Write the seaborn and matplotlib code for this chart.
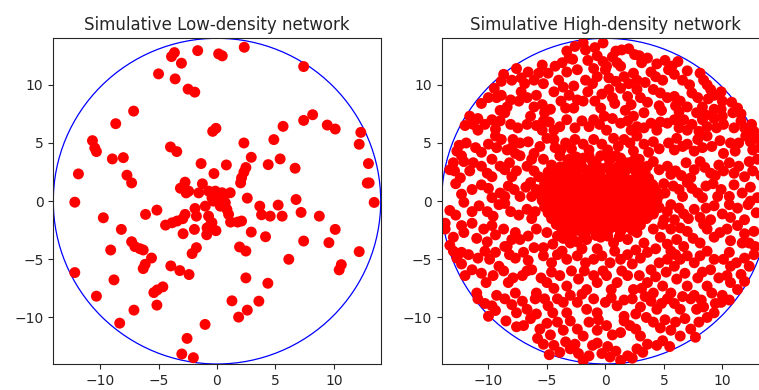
import matplotlib
matplotlib.use("Agg")
import matplotlib.pyplot as plt
import seaborn as sns
import pandas as pd
from matplotlib.patches import Circle

# Network area: disc of radius 14 around the origin
RADIUS = 14

titles = ["Simulative Low-density network", "Simulative High-density network"]
ticks = [-10, -5, 0, 5, 10]

# Node positions, low-density network
low_nodes = [
    (-3.89, 12.43), (-3.64, 12.77), (-1.65, 12.94), (0.14, 12.66), (0.45, 12.49),
    (2.33, 13.23), (-3.04, 11.86), (-5.0, 10.94), (-3.58, 10.51), (-2.47, 9.63),
    (-1.90, 9.37), (7.41, 11.57), (-7.13, 7.74), (-8.66, 6.66), (8.18, 7.43),
    (7.41, 6.94), (5.65, 6.43), (9.43, 6.54), (10.11, 6.2), (12.3, 5.91),
    (12.16, 4.89), (-0.37, 6.0), (-0.09, 6.26), (-10.65, 5.2), (-10.45, 4.57),
    (-10.31, 4.26), (2.3, 5.0), (4.86, 5.29), (-3.98, 4.66), (-3.44, 4.26),
    (-8.95, 3.63), (-8.01, 3.74), (2.93, 3.77), (5.4, 3.63), (-1.36, 3.23),
    (0.8, 3.11), (4.38, 3.14), (6.68, 2.83), (12.95, 3.23), (-11.85, 2.34),
    (-7.7, 2.23), (-7.3, 1.57), (-0.26, 2.37), (2.47, 2.89), (2.3, 2.49),
    (2.1, 2.0), (2.02, 1.57), (13.01, 1.57), (12.85, 1.55), (-2.73, 1.63),
    (-3.13, 1.11), (-2.64, 0.71), (-1.25, 1.49), (-1.56, 0.71), (-2.42, 0.86),
    (-12.16, -0.09), (2.59, 0.26), (6.76, 0.14), (5.23, -0.34), (13.44, -0.11),
    (-5.14, -0.77), (-6.11, -1.14), (-1.88, -0.63), (-1.76, -1.29), (3.66, -0.43),
    (3.81, -1.17), (4.55, -1.29), (5.57, -1.29), (7.19, -0.97), (8.75, -1.29),
    (-9.72, -1.43), (-4.4, -2.06), (-3.84, -1.86), (-3.41, -1.71), (-2.73, -1.14),
    (-2.93, -1.51), (1.16, -1.8), (1.76, -1.8), (2.1, -1.71), (-8.18, -2.43),
    (-1.93, -2.43), (-2.9, -2.8), (-0.88, -2.89), (-0.09, -2.54), (-0.54, -2.0),
    (2.93, -2.66), (4.15, -3.06), (10.11, -2.43), (-7.3, -3.49), (-7.02, -3.91),
    (-6.59, -4.09), (-6.31, -4.2), (7.41, -3.43), (9.57, -3.57), (1.93, -3.94),
    (2.47, -4.29), (-1.76, -4.0), (-2.13, -4.51), (-9.09, -4.2), (-5.6, -4.89),
    (6.14, -5.0), (12.16, -4.34), (-6.14, -5.43), (-6.31, -5.8), (-3.95, -5.57),
    (-3.18, -5.97), (-2.39, -6.31), (10.63, -5.46), (10.45, -5.91), (-12.16, -6.14),
    (-8.81, -6.77), (2.47, -6.6), (4.35, -7.06), (-4.63, -7.37), (-5.11, -7.63),
    (-5.4, -7.86), (-10.31, -8.17), (1.28, -8.57), (3.58, -8.6), (-5.14, -8.94),
    (-7.1, -9.37), (2.59, -9.37), (1.85, -9.97), (-8.32, -10.49), (-1.02, -10.6),
    (-2.56, -11.8), (-3.01, -13.14), (-2.02, -13.46),
    (-0.72, 0.86), (-0.14, 0.86), (0.43, 0.72), (1.13, 0.72), (-0.43, 0.29),
    (0.14, 0.15), (0.71, -0.14), (0.28, -0.43), (0.85, -0.71), (0.99, -1.14),
    (-1.0, -0.43), (-0.72, -1.29), (-0.43, -1.85), (-0.85, -2.3), (0.3, 0.45),
    (-0.3, 0.0), (0.55, 0.3),
]

# Node positions, high-density network: outer field
high_nodes = [
    (-1.9, 13.6), (-1.7, 13.0), (-0.2, 13.6), (-3.3, 12.9), (-3.1, 12.3), (1.4, 13.0),
    (2.0, 13.1), (-0.7, 12.5), (-0.2, 12.0), (0.6, 12.4), (1.0, 11.9), (2.9, 12.5),
    (3.1, 11.9), (5.1, 12.1), (6.2, 12.0), (0.1, 11.6),
    (-7.6, 11.4), (-8.7, 10.9), (-8.9, 10.3), (-6.6, 11.1), (-5.7, 11.0), (-4.9, 11.0),
    (-6.1, 10.4), (-5.3, 10.1), (-6.9, 10.1), (-3.3, 11.1), (-2.4, 11.3), (-2.7, 9.9),
    (-1.0, 11.4), (-0.7, 10.7), (-1.1, 10.1), (0.0, 11.3), (0.3, 10.6), (1.3, 11.6),
    (1.6, 10.7), (2.4, 11.0), (2.7, 10.4), (3.9, 11.1), (4.3, 10.7), (5.4, 11.3),
    (5.9, 10.9), (8.1, 11.0), (8.4, 10.4), (8.7, 10.0), (9.9, 9.4), (9.3, 9.1),
    (-10.0, 8.9), (-9.3, 8.9), (-8.9, 9.1), (-8.1, 8.7), (-8.4, 8.1), (-6.7, 8.9),
    (-5.9, 9.1), (-5.4, 8.3), (-4.7, 7.9), (-6.1, 8.1), (-3.1, 9.1), (-2.4, 8.7),
    (-1.9, 8.6), (-2.7, 8.0), (-0.9, 8.6), (0.3, 9.6), (0.6, 8.9), (1.3, 9.7),
    (1.9, 9.0), (2.7, 9.6), (3.0, 8.9), (4.1, 9.6), (4.7, 9.3), (5.3, 8.9),
    (5.9, 9.0), (6.4, 8.6), (7.0, 8.1), (7.9, 8.9), (8.3, 8.1), (9.3, 7.9),
    (10.0, 8.6), (11.3, 8.0), (10.9, 7.6),
    (-11.6, 7.3), (-10.9, 7.1), (-11.3, 6.6), (-10.9, 6.1), (-9.7, 7.0), (-9.0, 6.9),
    (-8.1, 6.6), (-8.6, 7.6), (-6.4, 7.3), (-6.7, 6.6), (-5.3, 6.9), (-5.4, 6.1),
    (-4.4, 6.1), (-3.3, 7.0), (-2.0, 6.9), (-1.4, 6.4), (-1.0, 7.0), (-0.1, 7.3),
    (0.6, 7.1), (1.3, 6.7), (1.9, 6.9), (2.4, 7.3), (2.7, 6.4), (3.9, 6.7),
    (4.4, 6.1), (5.3, 6.7), (5.9, 7.0), (6.7, 7.0), (7.4, 6.6), (8.3, 7.0),
    (8.7, 6.4), (9.3, 7.1), (10.0, 7.3), (10.1, 6.6), (11.9, 6.3), (12.7, 6.0),
    (-12.7, 4.3), (-12.3, 3.9), (-11.9, 5.0), (-10.0, 4.9), (-9.4, 5.6), (-8.9, 5.3),
    (-9.3, 4.6), (-8.4, 4.4), (-7.9, 5.3), (-7.3, 5.0), (-7.7, 4.1), (-6.6, 5.1),
    (-6.1, 4.1), (-4.4, 5.3), (-4.3, 4.6), (-3.4, 5.0), (-2.6, 5.3), (-1.9, 4.9),
    (-1.0, 5.3), (-0.3, 4.9), (0.7, 5.4), (1.6, 5.3), (2.1, 5.0), (2.7, 5.6),
    (3.3, 4.9), (4.1, 5.1), (5.4, 5.0), (6.1, 5.4), (7.0, 4.9), (7.9, 5.3),
    (8.7, 5.6), (9.1, 4.7), (10.1, 4.1), (11.4, 5.0), (12.0, 5.6), (12.4, 5.1),
    (12.9, 5.4),
    (-13.3, 2.7), (-12.9, 2.6), (-12.1, 3.4), (-11.3, 3.3), (-10.6, 3.0), (-9.7, 3.6),
    (-9.0, 3.0), (-9.7, 2.1), (-8.6, 2.7), (-7.3, 3.9), (-6.7, 3.0), (-5.7, 2.1),
    (-5.3, 3.6), (-4.6, 3.1), (-3.9, 3.9), (-3.1, 3.6), (-2.4, 3.0), (-1.9, 3.7),
    (-1.1, 3.4), (-0.4, 3.9), (0.4, 3.6), (1.3, 3.7), (2.0, 3.3), (2.9, 3.6),
    (3.6, 3.0), (4.1, 3.4), (5.3, 3.0), (6.0, 2.6), (6.9, 3.3), (7.6, 2.7),
    (8.1, 3.4), (9.0, 2.4), (9.7, 3.1), (10.1, 2.6), (11.4, 3.0), (11.9, 2.1),
    (12.3, 3.4), (13.0, 3.6),
    (-11.4, 1.0), (-10.6, 1.4), (-9.0, 0.7), (-8.3, 1.3), (-7.3, 0.4), (-6.4, 1.6),
    (-5.9, 1.0), (-5.0, 0.4), (-4.1, 1.7), (-3.6, 1.1), (-2.9, 1.6), (-2.4, 0.7),
    (-1.7, 1.3), (-1.0, 1.7), (-0.4, 1.0), (0.1, 1.6), (0.9, 1.1), (1.6, 1.7),
    (2.1, 1.0), (2.7, 1.6), (3.3, 0.7), (4.1, 1.3), (5.1, 0.7), (6.3, 1.0),
    (7.0, 1.6), (7.9, 0.7), (8.6, 1.3), (9.9, 1.0), (10.6, 0.4), (11.0, 1.4),
    (13.0, 0.3),
    (-13.7, -1.9), (-12.1, -0.1), (-11.4, -0.9), (-10.1, -0.9), (-9.1, -0.3), (-8.1, -0.9),
    (-6.7, -0.7), (-6.0, -0.9), (-5.1, -0.1), (-4.6, -1.3), (-3.9, -0.4), (-3.3, -1.7),
    (-2.6, -0.9), (-1.9, -0.4), (-1.1, -1.3), (-0.3, -0.4), (0.4, -1.0), (1.3, -0.4),
    (2.0, -1.3), (2.7, -0.7), (3.6, -0.3), (4.1, -1.1), (5.3, -0.9), (5.9, -1.6),
    (6.7, -1.1), (7.6, -0.7), (8.1, -1.4), (9.3, -0.4), (10.0, -1.1), (10.6, -0.3),
    (11.9, -1.6),
    (-13.7, -2.4), (-12.3, -2.1), (-12.1, -2.7), (-11.4, -1.9), (-9.7, -2.1), (-9.4, -2.9),
    (-8.7, -2.4), (-8.0, -3.3), (-7.3, -3.3), (-8.6, -3.9), (-6.1, -4.0), (-5.3, -4.0),
    (-5.9, -2.4), (-5.0, -2.7), (-4.1, -3.0), (-3.3, -2.4), (-3.0, -3.6), (-2.1, -2.6),
    (-1.6, -3.3), (-1.0, -2.4), (-0.4, -3.1), (0.1, -2.4), (0.7, -3.6), (1.3, -2.6),
    (1.9, -3.3), (2.7, -2.7), (3.3, -3.6), (4.1, -2.4), (4.7, -3.1), (5.6, -2.4),
    (6.1, -3.3), (6.7, -3.9), (7.0, -2.6), (8.1, -3.6), (8.7, -2.4), (9.3, -3.1),
    (10.4, -2.4), (11.3, -2.1), (11.7, -3.6), (12.3, -3.6),
    (-13.0, -4.3), (-12.3, -4.4), (-12.7, -4.9), (-12.3, -5.4), (-11.4, -5.9), (-10.9, -4.9),
    (-9.9, -5.0), (-9.1, -5.6), (-9.4, -4.4), (-8.4, -3.9), (-7.7, -4.9), (-7.1, -6.4),
    (-6.3, -5.9), (-4.1, -4.6), (-3.3, -5.0), (-2.4, -4.7), (-1.7, -5.3), (-1.0, -5.0),
    (-0.3, -4.7), (0.4, -5.3), (1.3, -5.0), (2.3, -5.4), (3.0, -4.9), (3.9, -5.9),
    (4.6, -5.3), (5.3, -5.0), (5.9, -5.6), (6.4, -5.0), (7.0, -4.7), (8.1, -4.7),
    (9.0, -5.9), (10.1, -5.0), (10.7, -5.6), (11.6, -6.3), (12.3, -5.6), (11.9, -4.9),
    (12.7, -4.6),
    (-11.0, -7.9), (-10.9, -8.4), (-9.3, -8.1), (-9.7, -9.0), (-8.3, -7.0), (-7.7, -7.9),
    (-6.7, -6.0), (-5.9, -7.9), (-6.0, -8.4), (-5.0, -7.0), (-3.9, -6.4), (-3.3, -7.3),
    (-3.0, -8.1), (-2.3, -6.7), (-1.6, -7.6), (-1.0, -6.4), (-0.7, -7.0), (0.1, -6.4),
    (1.0, -7.0), (1.9, -6.4), (2.4, -7.6), (3.6, -7.0), (4.1, -7.9), (4.9, -7.3),
    (5.6, -7.9), (6.1, -6.7), (7.0, -7.3), (7.6, -8.1), (8.7, -7.3), (9.1, -7.9),
    (10.0, -8.1), (10.7, -7.0), (11.3, -7.6),
    (-10.0, -9.9), (-9.4, -9.4), (-8.0, -8.9), (-7.6, -9.6), (-6.7, -9.3), (-5.9, -9.7),
    (-4.9, -9.0), (-4.1, -8.4), (-3.3, -9.6), (-2.4, -8.7), (-1.6, -9.3), (-0.7, -9.6),
    (0.0, -8.7), (1.0, -9.0), (1.6, -9.9), (2.3, -8.4), (3.0, -9.1), (3.9, -8.6),
    (4.4, -9.3), (5.3, -8.4), (6.4, -9.3), (7.3, -8.4), (8.4, -9.1), (9.3, -9.6),
    (9.9, -8.7),
    (-7.0, -10.7), (-6.4, -10.1), (-5.6, -11.0), (-4.1, -10.4), (-3.6, -11.1), (-2.4, -11.0),
    (-1.4, -10.4), (-0.7, -11.1), (0.1, -10.7), (1.3, -11.3), (2.1, -10.7), (3.0, -11.6),
    (4.1, -10.4), (4.7, -10.9), (5.6, -11.1), (6.4, -11.6), (7.3, -11.0), (8.0, -10.4),
    (-5.3, -12.3), (-4.4, -12.4), (-3.9, -13.0), (-3.0, -12.7), (-2.3, -13.1), (-1.9, -13.7),
    (-1.1, -12.4), (-0.3, -13.1), (0.4, -13.4), (1.3, -13.7), (1.9, -13.3), (2.7, -12.7),
    (3.6, -12.3), (4.4, -12.4),
    # second layer of the outer field
    (-2.6, 13.3), (-0.9, 13.2), (0.9, 12.9), (2.5, 12.6), (-2.8, 12.2), (-3.7, 11.9),
    (3.6, 12.3), (4.4, 11.8), (-1.5, 12.1), (-4.3, 11.6), (5.7, 11.6), (7.0, 11.2),
    (-5.4, 11.7),
    (-7.2, 10.6), (-8.0, 10.4), (-4.0, 10.4), (-3.6, 9.8), (-1.7, 10.4), (0.9, 10.3),
    (2.0, 10.1), (3.4, 10.2), (4.9, 10.4), (6.6, 10.4), (7.2, 10.0), (9.0, 9.6),
    (-9.5, 9.7), (-4.4, 9.4),
    (-10.6, 8.4), (-7.4, 8.6), (-7.2, 9.4), (-3.8, 8.6), (-1.5, 9.4), (-0.3, 9.2),
    (0.8, 8.4), (2.2, 8.3), (3.6, 8.5), (4.6, 8.2), (6.0, 8.2), (7.4, 9.3),
    (8.8, 8.8), (9.9, 7.9), (10.8, 8.5), (11.6, 7.5), (-9.0, 7.8), (-5.2, 7.6),
    (-3.4, 8.0), (-0.4, 8.0), (1.7, 7.8), (3.3, 7.6), (4.8, 7.8), (6.3, 7.7),
    (7.8, 7.6), (8.6, 7.4),
    (-12.0, 6.5), (-10.3, 6.6), (-9.4, 6.2), (-7.5, 6.3), (-5.9, 6.5), (-4.8, 6.8),
    (-3.9, 6.4), (-2.6, 6.3), (-0.5, 6.6), (0.1, 6.1), (2.2, 6.1), (3.3, 6.3),
    (4.7, 6.8), (6.3, 6.3), (7.0, 6.1), (8.0, 6.0), (9.5, 6.3), (11.0, 6.3),
    (11.6, 6.9), (12.5, 6.6),
    (-12.5, 4.8), (-11.1, 4.6), (-10.6, 4.2), (-8.0, 4.6), (-5.6, 4.7), (-5.0, 5.4),
    (-3.8, 4.4), (-2.9, 4.5), (-1.4, 4.4), (0.2, 4.4), (1.1, 4.7), (2.4, 4.3),
    (3.7, 4.2), (4.6, 4.5), (5.9, 4.4), (6.6, 4.7), (7.6, 4.3), (8.3, 4.6),
    (9.8, 5.2), (10.7, 5.0), (11.1, 4.3), (12.6, 4.4), (13.2, 4.6),
    (-13.0, 3.3), (-11.6, 2.6), (-10.1, 2.4), (-8.2, 3.3), (-7.6, 2.6), (-6.1, 2.6),
    (-6.3, 3.6), (-4.9, 2.5), (4.6, 2.7), (5.6, 2.3), (6.5, 2.2), (7.3, 2.0),
    (8.5, 2.9), (9.4, 2.2), (10.6, 3.3), (11.0, 2.4), (12.6, 2.6), (13.3, 2.2),
    (-12.4, 2.0), (-8.0, 2.1),
    (-12.8, 1.5), (-12.3, 0.6), (-10.0, 1.1), (-9.7, 0.3), (-8.6, 0.4), (-7.8, 1.0),
    (-6.8, 1.2), (-6.3, 0.4), (5.0, 1.5), (5.8, 1.3), (6.6, 0.4), (7.4, 1.1),
    (8.3, 0.3), (9.2, 1.5), (9.6, 0.4), (11.7, 0.7), (12.4, 1.2), (12.4, 0.0),
    (-13.3, -0.8), (-12.8, -1.2), (-10.8, -0.4), (-9.6, -1.3), (-8.6, -0.2), (-7.4, -1.2),
    (-6.3, -1.5), (5.0, -1.6), (5.6, -0.3), (6.3, -0.6), (7.1, -1.5), (8.6, -0.6),
    (9.0, -1.6), (10.7, -1.4), (11.3, -0.6), (12.2, -0.3), (12.9, -1.0),
    (-13.0, -3.1), (-11.0, -3.2), (-10.4, -2.4), (-10.1, -3.5), (-7.7, -2.7), (-6.6, -3.0),
    (-4.5, -3.7), (-3.6, -3.2), (-2.4, -3.5), (4.9, -2.0), (5.3, -3.7), (6.4, -2.3),
    (7.5, -3.2), (9.8, -2.7), (10.7, -3.4), (12.7, -2.6), (11.9, -2.8), (8.4, -2.0),
    (-13.3, -3.8), (-11.7, -4.6), (-10.3, -4.3), (-8.2, -4.6), (-7.0, -4.4), (-6.6, -5.1),
    (-5.3, -4.7), (-4.6, -5.3), (-3.7, -4.3), (-2.0, -4.1), (-0.7, -4.1), (0.8, -4.3),
    (1.9, -4.6), (2.6, -4.2), (3.6, -4.4), (4.3, -4.1), (5.6, -4.3), (6.0, -4.6),
    (7.6, -5.3), (8.7, -4.3), (9.3, -5.0), (10.6, -4.4), (11.2, -5.3), (12.8, -3.9),
    (-12.0, -6.4), (-10.6, -6.2), (-10.2, -7.0), (-9.6, -6.4), (-8.7, -6.0), (-7.9, -6.6),
    (-5.5, -6.6), (-4.6, -6.1), (-4.4, -7.5), (-2.9, -6.0), (-1.8, -6.0), (-0.2, -6.0),
    (0.5, -7.6), (1.4, -6.0), (2.9, -6.4), (3.1, -7.5), (4.3, -6.5), (5.2, -6.1),
    (6.8, -6.2), (7.9, -6.6), (8.3, -6.1), (9.7, -6.6), (10.4, -6.4), (11.9, -6.9),
    (-10.3, -8.8), (-8.6, -8.4), (-7.1, -8.6), (-5.2, -8.4), (-4.5, -9.6), (-3.6, -8.7),
    (-2.0, -8.0), (-1.0, -8.4), (0.5, -8.3), (1.6, -8.5), (2.6, -9.7), (3.4, -8.2),
    (4.8, -8.8), (5.9, -8.8), (6.6, -8.2), (7.8, -9.3), (8.2, -8.5), (9.4, -8.8),
    (10.6, -8.5),
    (-8.5, -10.3), (-7.6, -10.8), (-5.0, -10.5), (-4.7, -11.5), (-3.0, -10.3), (-1.9, -11.6),
    (-0.6, -10.2), (0.6, -11.5), (1.6, -10.3), (2.6, -11.0), (3.5, -10.0), (5.1, -10.2),
    (6.0, -10.4), (6.8, -10.1), (8.7, -10.0), (7.7, -11.7),
    (-5.8, -11.8), (-4.8, -13.2), (-3.4, -12.1), (-2.6, -12.3), (-1.4, -13.3), (-0.7, -12.2),
    (0.2, -12.5), (0.9, -12.9), (2.3, -13.5), (3.2, -13.0), (4.9, -12.0), (5.5, -12.5),
]

# Node positions, high-density network: crowded core
high_core = [
    (-3.2, 3.45), (-2.05, 3.55), (-0.8, 3.4), (0.35, 3.55), (1.45, 3.45), (2.45, 3.5),
    (-2.5, 3.8), (-1.4, 3.9), (0.9, 3.9),
    (-3.85, 2.95), (-2.9, 3.05), (-1.95, 2.9), (-0.85, 3.05), (0.2, 2.95), (1.15, 3.05),
    (2.2, 2.9), (3.05, 3.0),
    (-4.2, 2.7), (-3.2, 2.8), (-2.3, 2.75), (-1.3, 2.7), (-0.3, 2.8), (0.8, 2.75),
    (1.8, 2.7), (2.8, 2.8),
    (-4.6, 2.45), (-3.65, 2.55), (-2.6, 2.4), (-1.6, 2.55), (-0.5, 2.45), (0.45, 2.5),
    (1.5, 2.4), (2.6, 2.55), (3.4, 2.45),
    (-4.9, 2.0), (-4.0, 1.95), (-3.1, 2.05), (-2.1, 1.9), (-1.2, 2.05), (-0.25, 1.95),
    (0.8, 2.05), (1.8, 1.9), (2.8, 2.0), (3.7, 1.95),
    (-4.5, 1.75), (-3.6, 1.8), (-2.6, 1.7), (-1.7, 1.75), (-0.7, 1.8), (0.3, 1.7),
    (1.2, 1.75), (2.2, 1.8), (3.2, 1.7),
    (-5.2, 1.5), (-4.3, 1.45), (-3.4, 1.55), (-2.5, 1.5), (-1.5, 1.45), (-0.6, 1.55),
    (0.4, 1.5), (1.3, 1.45), (2.3, 1.55), (3.2, 1.5), (4.0, 1.45),
    (-5.3, 1.0), (-4.6, 1.05), (-3.8, 0.95), (-2.9, 1.0), (-2.0, 1.05), (-1.1, 0.95),
    (-0.2, 1.0), (0.7, 1.05), (1.6, 0.95), (2.5, 1.0), (3.4, 1.05), (4.3, 0.95),
    (-5.0, 0.75), (-4.2, 0.8), (-3.3, 0.7), (-2.5, 0.75), (-1.6, 0.8), (-0.7, 0.7),
    (0.2, 0.75), (1.1, 0.8), (2.0, 0.7), (3.0, 0.75), (3.9, 0.8),
    (-5.5, 0.5), (-4.7, 0.45), (-3.9, 0.55), (-3.1, 0.5), (-2.3, 0.45), (-1.5, 0.55),
    (-0.6, 0.5), (0.3, 0.45), (1.2, 0.55), (2.0, 0.5), (2.9, 0.45), (3.8, 0.55),
    (4.6, 0.5),
    (-5.4, 0.05), (-4.5, -0.05), (-3.6, 0.0), (-2.7, 0.05), (-1.9, -0.05), (-1.0, 0.0),
    (-0.1, 0.05), (0.8, -0.05), (1.7, 0.0), (2.6, 0.05), (3.5, -0.05), (4.4, 0.0),
    (-5.0, -0.25), (-4.1, -0.2), (-3.2, -0.3), (-2.3, -0.25), (-1.4, -0.2), (-0.5, -0.3),
    (0.4, -0.25), (1.3, -0.2), (2.2, -0.3), (3.1, -0.25), (4.0, -0.2),
    (-5.2, -0.5), (-4.3, -0.45), (-3.4, -0.55), (-2.5, -0.5), (-1.6, -0.45), (-0.7, -0.55),
    (0.2, -0.5), (1.1, -0.45), (2.0, -0.55), (2.9, -0.5), (3.8, -0.45), (4.6, -0.55),
    (-4.9, -1.0), (-4.0, -0.95), (-3.1, -1.05), (-2.2, -1.0), (-1.3, -0.95), (-0.4, -1.05),
    (0.5, -1.0), (1.4, -0.95), (2.3, -1.05), (3.2, -1.0), (4.1, -0.95),
    (-4.4, -1.25), (-3.5, -1.3), (-2.6, -1.2), (-1.7, -1.25), (-0.8, -1.3), (0.1, -1.2),
    (1.0, -1.25), (1.9, -1.3), (2.8, -1.2), (3.7, -1.25),
    (-4.6, -1.5), (-3.7, -1.45), (-2.8, -1.55), (-1.9, -1.5), (-1.0, -1.45), (-0.1, -1.55),
    (0.8, -1.5), (1.7, -1.45), (2.6, -1.55), (3.5, -1.5),
    (-4.2, -2.0), (-3.3, -1.95), (-2.4, -2.05), (-1.5, -2.0), (-0.6, -1.95), (0.3, -2.05),
    (1.2, -2.0), (2.1, -1.95), (3.0, -2.05),
    (-3.8, -2.25), (-2.9, -2.3), (-2.0, -2.2), (-1.1, -2.25), (-0.2, -2.3), (0.7, -2.2),
    (1.6, -2.25), (2.5, -2.3),
    (-3.6, -2.5), (-2.6, -2.45), (-1.6, -2.55), (-0.7, -2.5), (0.3, -2.45), (1.3, -2.55),
    (2.3, -2.5),
    (-2.9, -3.0), (-1.8, -3.05), (-0.8, -2.95), (0.2, -3.0), (1.2, -3.05),
]

low_x, low_y = zip(*low_nodes)
high_x, high_y = zip(*(high_nodes + high_core))
series = [
    pd.DataFrame({"x": low_x, "y": low_y}),
    pd.DataFrame({"x": high_x, "y": high_y}),
]

sns.set_style("ticks")
plt.rcParams["font.family"] = ["DejaVu Sans"]

fig = plt.figure(figsize=(7.59, 3.90), dpi=100)
# second panel runs past the right edge of the canvas
boxes = [[0.0702, 0.0667, 0.4314, 0.8351], [0.5819, 0.0667, 0.4314, 0.8351]]

for box, title, df in zip(boxes, titles, series):
    ax = fig.add_axes(box)
    ax.add_patch(Circle((0, 0), RADIUS, fill=False, edgecolor="blue",
                        linewidth=0.9, zorder=1))
    sns.scatterplot(data=df, x="x", y="y", color="red", s=62,
                    edgecolor="none", alpha=1, ax=ax, zorder=2)
    ax.set_xlim(-RADIUS, RADIUS)
    ax.set_ylim(-RADIUS, RADIUS)
    ax.set_xticks(ticks)
    ax.set_yticks(ticks)
    ax.set_xlabel("")
    ax.set_ylabel("")
    ax.set_title(title, fontsize=12, color="#262626")
    for side in ax.spines.values():
        side.set_visible(True)
        side.set_color("#262626")
        side.set_linewidth(0.8)
    ax.tick_params(labelsize=10, length=3.5, width=0.8, colors="#262626")

fig.savefig("out.png", dpi=100)
